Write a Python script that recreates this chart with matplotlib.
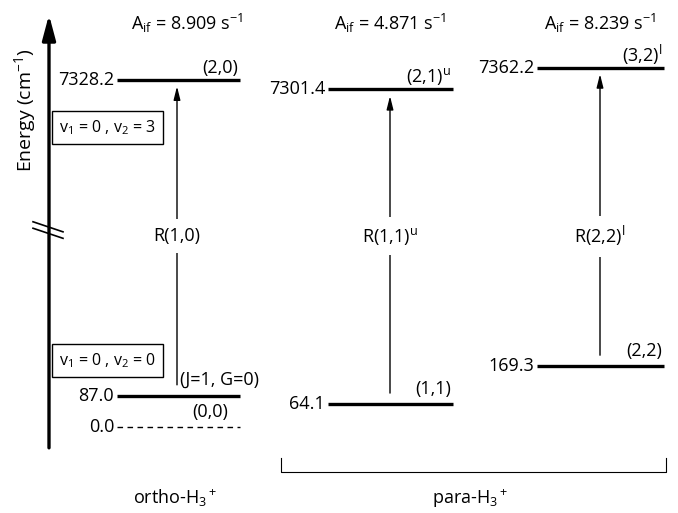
import matplotlib.pyplot as plt
import matplotlib as mpl

# ===== data =====
ortho_levels = [0.0, 87.0, 7328.2]
ortho_labels = ["(0,0)", "(J=1, G=0)", "(2,0)"]
para_lower = [64.1, 169.3]
para_upper = [7301.4, 7362.2]
para_lower_labels = ["(1,1)", "(2,2)"]
para_upper_labels = ["(2,1)$^{\\mathrm{u}}$", "(3,2)$^{\\mathrm{l}}$"]
A_if = [8.909, 4.871, 8.239]
transitions = ["R(1,0)", "R(1,1)$^{\\mathrm{u}}$", "R(2,2)$^{\\mathrm{l}}$"]
vib_boxes = ["$\\mathrm{v}_1$ = 0 , $\\mathrm{v}_2$ = 3", "$\\mathrm{v}_1$ = 0 , $\\mathrm{v}_2$ = 0"]

# broken energy axis: upper states shifted down
GAP = 6364.0
def ey(E):
    return E - GAP if E > 2000 else E

plt.rcParams['font.family'] = ['Open Sans', 'DejaVu Sans']
plt.rcParams['mathtext.fontset'] = 'custom'
plt.rcParams['mathtext.rm'] = 'Open Sans'
plt.rcParams['mathtext.it'] = 'Open Sans:italic'

fig = plt.figure(figsize=(6.78, 5.13), dpi=100)
ax = fig.add_axes([0, 0, 1, 1])
ax.set_xlim(0, 678)
ax.set_ylim(-239, 1186)
ax.axis('off')

FS = 13
LW = 2.4

# energy axis arrow
ax.annotate("", xy=(49, 1145), xytext=(49, -58),
            arrowprops=dict(arrowstyle='-|>,head_length=1.5,head_width=0.4', lw=2.4, color='black',
                            shrinkA=0, shrinkB=0))
ax.text(25, 880, "Energy (cm$^{-1}$)", rotation=90, ha='center', va='center', fontsize=14)
for dy in (0, -18):
    ax.plot([33, 63], [570 + dy, 542 + dy], color='black', lw=1.2, zorder=3)

def level(x0, x1, E, dashed=False):
    y = ey(E)
    if dashed:
        ax.plot([x0, x1], [y, y], color='black', lw=1, ls=(0, (4, 3.2)))
    else:
        ax.plot([x0, x1], [y, y], color='black', lw=LW, solid_capstyle='butt')
    ax.text(x0 - 3, y, f"{E:.1f}", ha='right', va='center', fontsize=FS)

def transition(x, Elow, Eup, label):
    y0 = ey(Elow) + 30
    y1 = ey(Eup) - 18
    ax.annotate("", xy=(x, y1), xytext=(x, y0),
                arrowprops=dict(arrowstyle='-|>,head_length=0.8,head_width=0.2', lw=1, color='black',
                                shrinkA=0, shrinkB=0))
    ax.text(x, 530, label, ha='center', va='center', fontsize=FS,
            bbox=dict(facecolor='white', edgecolor='none', pad=6))

# ortho column
xo0, xo1, xo = 117, 240, 177
level(xo0, xo1, ortho_levels[0], dashed=True)
level(xo0, xo1, ortho_levels[1])
level(xo0, xo1, ortho_levels[2])
ax.text(210, ey(ortho_levels[0]) + 42, ortho_labels[0], ha='center', va='center', fontsize=FS,
        bbox=dict(facecolor='white', edgecolor='none', pad=0.5))
ax.text(180, ey(ortho_levels[1]) + 45, ortho_labels[1], ha='left', va='center', fontsize=FS)
ax.text(238, ey(ortho_levels[2]) + 32, ortho_labels[2], ha='right', va='center', fontsize=FS)
transition(xo, ortho_levels[1], ortho_levels[2], transitions[0])
ax.text(187, 1122, f"A$_{{\\mathrm{{if}}}}$ = {A_if[0]:.3f} s$^{{-1}}$", ha='center', va='center', fontsize=FS)
ax.text(59, ey(7328.2) - 132, vib_boxes[0], ha='left', va='center', fontsize=11.5,
        bbox=dict(facecolor='white', edgecolor='black', lw=1, pad=5))
ax.text(59, ey(87.0) + 98, vib_boxes[1], ha='left', va='center', fontsize=11.5,
        bbox=dict(facecolor='white', edgecolor='black', lw=1, pad=5))
ax.text(175, -198, "ortho-H$_3$$^+$", ha='center', va='center', fontsize=FS)

# para columns
para_x = [(328, 453, 390), (537, 664, 600)]
for i, (x0, x1, xc) in enumerate(para_x):
    level(x0, x1, para_lower[i])
    level(x0, x1, para_upper[i])
    ax.text(x1 - 2, ey(para_lower[i]) + 42, para_lower_labels[i], ha='right', va='center', fontsize=FS)
    ax.text(x1 - 2, ey(para_upper[i]) + 36, para_upper_labels[i], ha='right', va='center', fontsize=FS)
    transition(xc, para_lower[i], para_upper[i], transitions[i + 1])
    ax.text(xc, 1122, f"A$_{{\\mathrm{{if}}}}$ = {A_if[i + 1]:.3f} s$^{{-1}}$", ha='center', va='center', fontsize=FS)

# para bracket
ax.plot([281, 281, 666, 666], [-86, -125, -125, -86], color='black', lw=0.8)
ax.text(470, -198, "para-H$_3$$^+$", ha='center', va='center', fontsize=FS)

fig.savefig("out.png", dpi=100)
